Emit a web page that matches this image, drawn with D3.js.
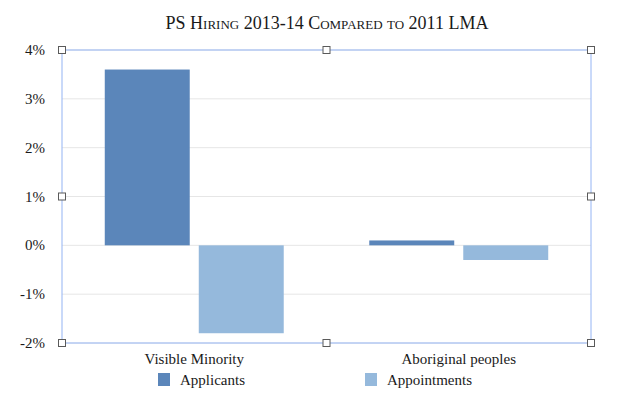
<!DOCTYPE html>
<html>
<head>
<meta charset="utf-8">
<script src="https://cdn.jsdelivr.net/npm/d3@7"></script>
<style>
  body { margin: 0; background: #fff; }
</style>
</head>
<body>
<div id="chart"></div>
<script>
const categories = ["Visible Minority", "Aboriginal peoples"]
const seriesNames = ["Applicants", "Appointments"]
const applicants = [3.6, 0.1]
const appointments = [-1.8, -0.3]
const yTicks = [-2, -1, 0, 1, 2, 3, 4]

const colors = ["#5b86ba", "#95b9dc"]
const width = 630, height = 401
const m = {left: 62, right: 39, top: 50, bottom: 58}

const svg = d3.select("#chart").append("svg")
  .attr("width", width)
  .attr("height", height)
  .attr("font-family", "'Liberation Serif', 'DejaVu Serif', serif")
  .attr("fill", "#1a1a1a")

const x = d3.scaleBand().domain(categories).range([m.left, width - m.right]).paddingInner(0).paddingOuter(0)
const xs = d3.scaleBand().domain(seriesNames).range([0, x.bandwidth()]).paddingOuter(0.455).paddingInner(0.096)
const y = d3.scaleLinear().domain([-2, 4]).range([height - m.bottom, m.top])

svg.append("text")
  .attr("x", 327).attr("y", 29)
  .attr("text-anchor", "middle")
  .attr("font-size", 18)
  .style("font-variant", "small-caps")
  .text("PS Hiring 2013-14 Compared to 2011 LMA")

// gridlines
svg.append("g")
  .selectAll("line")
  .data(yTicks)
  .join("line")
  .attr("x1", m.left).attr("x2", width - m.right)
  .attr("y1", d => y(d)).attr("y2", d => y(d))
  .attr("stroke", "#e6e6e6")
  .attr("stroke-width", 1)

// y labels
svg.append("g")
  .selectAll("text")
  .data(yTicks)
  .join("text")
  .attr("x", 45)
  .attr("y", d => y(d) + 5)
  .attr("text-anchor", "end")
  .attr("font-size", 15)
  .text(d => d + "%")

const data = []
categories.forEach((c, i) => {
  data.push({cat: c, s: seriesNames[0], v: applicants[i]})
  data.push({cat: c, s: seriesNames[1], v: appointments[i]})
})

svg.append("g")
  .selectAll("rect")
  .data(data)
  .join("rect")
  .attr("x", d => x(d.cat) + xs(d.s))
  .attr("width", xs.bandwidth())
  .attr("y", d => y(Math.max(0, d.v)))
  .attr("height", d => Math.abs(y(d.v) - y(0)))
  .attr("fill", d => colors[seriesNames.indexOf(d.s)])

// selection frame
const x0 = m.left, x1 = width - m.right, y0 = m.top, y1 = height - m.bottom
svg.append("rect")
  .attr("x", x0).attr("y", y0)
  .attr("width", x1 - x0).attr("height", y1 - y0)
  .attr("fill", "none")
  .attr("stroke", "#94b4f4")
  .attr("stroke-width", 1)

const handles = []
;[x0, (x0 + x1) / 2, x1].forEach(hx => {
  ;[y0, (y0 + y1) / 2, y1].forEach(hy => {
    if (!(hx === (x0 + x1) / 2 && hy === (y0 + y1) / 2)) handles.push([hx, hy])
  })
})
svg.append("g")
  .selectAll("rect")
  .data(handles)
  .join("rect")
  .attr("x", d => d[0] - 3.5).attr("y", d => d[1] - 3.5)
  .attr("width", 7).attr("height", 7)
  .attr("fill", "#fff")
  .attr("stroke", "#5a5a5a")
  .attr("stroke-width", 1)

// category labels
svg.append("g")
  .selectAll("text")
  .data(categories)
  .join("text")
  .attr("x", d => x(d) + x.bandwidth() / 2)
  .attr("y", 364)
  .attr("text-anchor", "middle")
  .attr("font-size", 15)
  .text(d => d)

// legend
const legendX = [158, 365]
const lg = svg.append("g")
  .selectAll("g")
  .data(seriesNames)
  .join("g")
  .attr("transform", (d, i) => `translate(${legendX[i]},373)`)
lg.append("rect")
  .attr("width", 12).attr("height", 13)
  .attr("fill", (d, i) => colors[i])
lg.append("text")
  .attr("x", 22).attr("y", 12)
  .attr("font-size", 15)
  .text(d => d)
</script>
</body>
</html>
